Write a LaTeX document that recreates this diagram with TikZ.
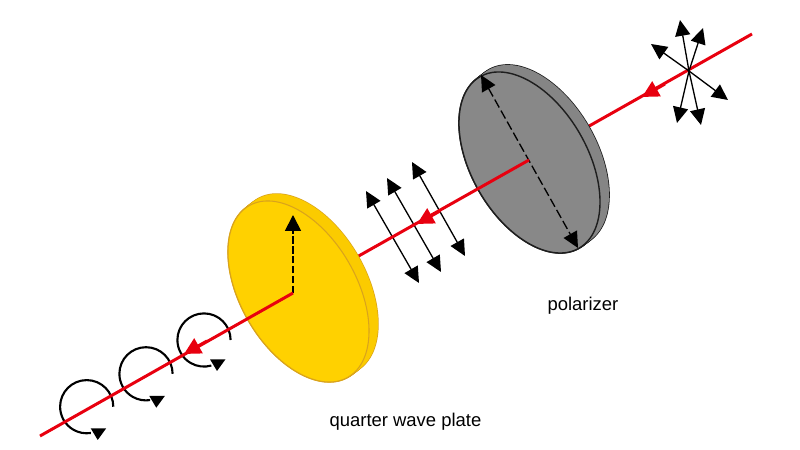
\documentclass[tikz,border=0pt]{standalone}
\usepackage{fontspec}
\setmainfont{Liberation Sans}
\usepackage{tikz}
\usetikzlibrary{arrows.meta}
\definecolor{beamred}{HTML}{E8000F}
\definecolor{plateface}{HTML}{FFD100}
\definecolor{platerim}{HTML}{FBCB00}
\definecolor{plateedge}{HTML}{D9A31C}
\definecolor{polface}{HTML}{888888}
\definecolor{polrim}{HTML}{858585}
\definecolor{poledge}{HTML}{1E1E1E}
\tikzset{
  beam/.style={beamred,line width=1.7pt},
  beamhead/.style={beam,-{Triangle[length=9.5pt,width=9.5pt]}},
  pol/.style={black,line width=0.75pt,-{Triangle[length=9pt,width=8.6pt]}},
  polboth/.style={pol,{Triangle[length=9pt,width=8.6pt]}-{Triangle[length=9pt,width=8.6pt]}},
  spin/.style={black,line width=1.2pt},
  lbl/.style={font=\fontsize{10.5}{12}\selectfont,text=black}
}
\begin{document}
\begin{tikzpicture}[x=0.2mm,y=-0.2mm]
\useasboundingbox (0,0) rectangle (800,450);
\coordinate (beamstart) at (752,34);
\coordinate (beamend) at (40,436);
\coordinate (polcentre) at (529,160);
\coordinate (platecentre) at (293,293);
\coordinate (starcentre) at (689,71);
% beam behind the polarizer
\draw[beam] (beamstart) -- (polcentre);
% polarizer
\foreach \k in {0,...,9}
  \draw[draw=poledge,line width=0.9pt,shift={(538.5-\k,155.5+0.78*\k)},rotate=-60] (0,0) ellipse [x radius=99,y radius=58];
\foreach \k in {0,...,9}
  \fill[polrim,shift={(538.5-\k,155.5+0.78*\k)},rotate=-60] (0,0) ellipse [x radius=99,y radius=58];
\draw[fill=polface,draw=poledge,line width=0.8pt,shift={(529.5,162.5)},rotate=-60] (0,0) ellipse [x radius=99,y radius=58];
\coordinate (poltop) at (481,75);
\coordinate (polbot) at (578,248);
\draw[polboth,dashed,dash pattern=on 5.2pt off 2pt] (poltop) -- (polbot);
% three linear arrows
\draw[polboth] (366,191) -- (419,283);
\draw[polboth] (387,178) -- (441,272);
\draw[polboth] (412,162) -- (465,256);
% beam between the plates
\draw[beam] (polcentre) -- (platecentre);
\draw[beamhead] (440,211) -- (417,224);
% quarter wave plate
\foreach \k in {0,...,9}
  \draw[draw=plateedge,line width=0.8pt,shift={(307.5-\k,284.5+0.78*\k)},rotate=-60] (0,0) ellipse [x radius=99,y radius=58];
\foreach \k in {0,...,9}
  \fill[platerim,shift={(307.5-\k,284.5+0.78*\k)},rotate=-60] (0,0) ellipse [x radius=99,y radius=58];
\draw[fill=plateface,draw=plateedge,line width=0.6pt,shift={(298.5,291.5)},rotate=-60] (0,0) ellipse [x radius=99,y radius=58];
% circular arrows
\foreach \cx/\cy/\tx/\ty/\last in {86.7/406.7/90.7/428.3/-279,146/373.8/149.3/396/-279,204/340/210/359.3/-286} {
  \draw[spin] (\cx+26.6,\cy) arc [start angle=0,end angle=\last,radius=26.6];
  \fill[black] (\tx,\ty) -- (\tx+15.5,\ty) -- (\tx+7,\ty+11.7) -- cycle;
}
% beam after the plate
\coordinate (platetip) at (293,215);
\draw[black,line width=1pt,dashed,dash pattern=on 4.2pt off 1.4pt,-{Triangle[length=9pt,width=9pt]}] (platecentre) -- (platetip);
\draw[beam] (platecentre) -- (beamend);
\draw[beamhead] (207,341) -- (184,354);
\draw[beamhead] (665,84) -- (642,97);
% unpolarized star
\foreach \tipx/\tipy in {680/20,703/28,651/44,728/100,677/123,701/125}
  \draw[pol] (starcentre) -- (\tipx,\tipy);
\node[lbl] (polarizer) at (583,306) {polarizer};
\node[lbl] (plate) at (405.5,421.5) {quarter wave plate};
\end{tikzpicture}
\end{document}
